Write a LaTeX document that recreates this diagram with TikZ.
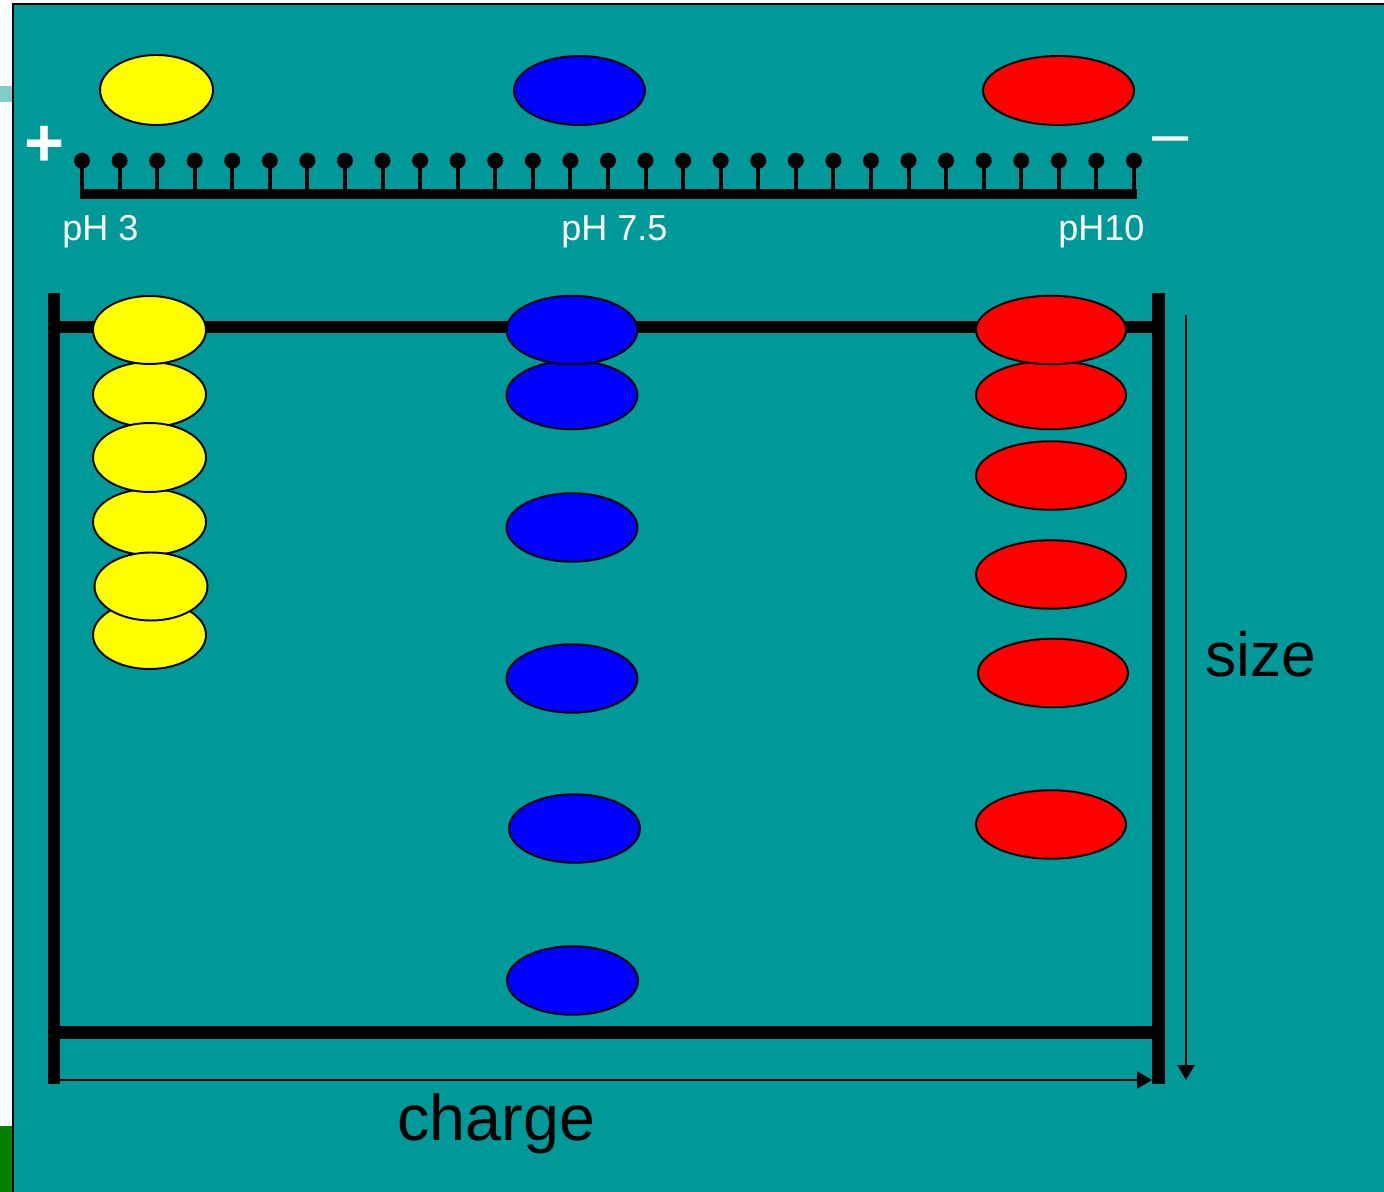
\documentclass[tikz,border=0pt]{standalone}
\usepackage{fontspec}
\setmainfont{Liberation Sans}
\usetikzlibrary{shapes.geometric,arrows.meta}
\definecolor{gelteal}{RGB}{0,153,153}
\definecolor{tabteal}{RGB}{128,204,204}
\definecolor{tabgreen}{RGB}{0,128,0}
\definecolor{spotyellow}{RGB}{255,255,0}
\tikzset{
  blob/.style n args={3}{ellipse, draw=black, line width=1.1pt, fill=#1,
    minimum width=#2, minimum height=#3, inner sep=0pt},
  yblob/.style={blob={spotyellow}{2.26cm}{1.36cm}},
  bblob/.style={blob={blue}{2.62cm}{1.37cm}},
  rblob/.style={blob={red}{3.0cm}{1.37cm}},
  phlabel/.style={text=white, inner sep=0pt, anchor=base west, font=\fontsize{20.5}{24}\selectfont},
  axislabel/.style={text=black, inner sep=0pt, anchor=base west},
  polelabel/.style={text=white, inner sep=0pt, anchor=base},
  axisarrow/.style={line width=1.4pt, -{Triangle[length=0.3cm,width=0.34cm]}},
}
\begin{document}
\begin{tikzpicture}[x=0.02cm,y=-0.02cm]
\useasboundingbox (0,0) rectangle (1384,1192);
% page and panel
\fill[white] (0,0) rectangle (1384,1192);
\fill[gelteal] (13,4) rectangle (1384,1192);
\draw[line width=1.2pt] (13,1192) -- (13,4) -- (1384,4);
\fill[tabteal] (0,86) rectangle (12,102);
\fill[tabgreen] (0,1126) rectangle (12,1192);

% isoelectric focusing strip with pH scale
\fill (80,189) rectangle (1137,199);
\foreach \i in {0,...,28}{
  \draw[line width=2.3pt] ({82+\i*37.57},160.7) -- ({82+\i*37.57},192);
  \fill ({82+\i*37.57},160.7) circle (0.16cm);
}
\node[polelabel, font=\bfseries\fontsize{39}{44}\selectfont] (plus) at (45,167) {+};
\node[polelabel, font=\fontsize{37}{44}\selectfont] (minus) at (1171,156) {–};
\node[phlabel] (ph3) at (62,241) {pH 3};
\node[phlabel] (ph75) at (561,241) {pH 7.5};
\node[phlabel] (ph10) at (1058,241) {pH10};

% focused proteins on the strip
\node[yblob, minimum height=1.40cm] (ytop) at (156.5,90) {};
\node[bblob, minimum height=1.38cm] (btop) at (579.5,90.5) {};
\node[rblob, minimum width=3.02cm, minimum height=1.38cm] (rtop) at (1058.5,90.5) {};

% second-dimension gel frame
\fill (48,293) rectangle (60,1084);
\fill (1152,293) rectangle (1165,1084);
\fill (60,321) rectangle (1152,333);
\fill (60,1026) rectangle (1152,1039);

% axes
\coordinate (cL) at (60,1080);
\coordinate (cR) at (1152,1080);
\coordinate (sT) at (1186,315);
\coordinate (sB) at (1186,1080);
\draw[axisarrow] (cL) -- (cR);
\draw[axisarrow] (sT) -- (sB);
\node[axislabel, font=\fontsize{35.5}{42}\selectfont] (size) at (1205,677) {size};
\node[axislabel, font=\fontsize{36.8}{44}\selectfont] (charge) at (397,1140) {charge};

% yellow spots
\node[yblob, minimum height=1.30cm] (y2) at (149.5,394.5) {};
\node[yblob, minimum height=1.32cm] (y4) at (149.5,522) {};
\node[yblob] (y6) at (149.5,635) {};
\node[yblob] (y1) at (149.5,330) {};
\node[yblob, minimum height=1.38cm] (y3) at (149.5,457.5) {};
\node[yblob] (y5) at (151,586.5) {};

% blue spots
\node[bblob] (b2) at (572,395) {};
\node[bblob] (b1) at (572,330) {};
\node[bblob] (b3) at (572,527.5) {};
\node[bblob] (b4) at (572,678.5) {};
\node[bblob] (b5) at (574.5,828.5) {};
\node[bblob] (b6) at (572.5,980.5) {};

% red spots
\node[rblob] (r2) at (1051,395) {};
\node[rblob] (r1) at (1051,330) {};
\node[rblob] (r3) at (1051,475.5) {};
\node[rblob] (r4) at (1051,574.5) {};
\node[rblob] (r5) at (1053,673) {};
\node[rblob] (r6) at (1051,824.5) {};
\end{tikzpicture}
\end{document}
